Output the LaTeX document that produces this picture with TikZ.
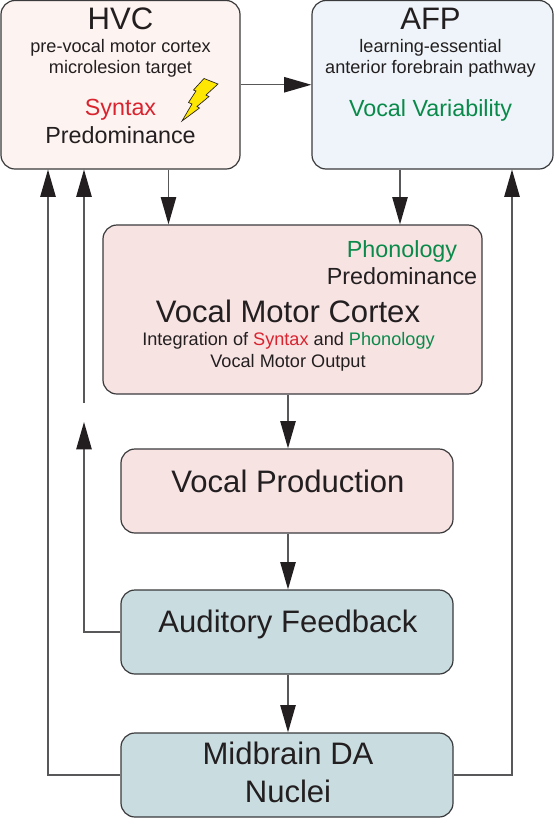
\documentclass[tikz,border=0pt]{standalone}
\usepackage{fontspec}
\setmainfont{Liberation Sans}
\usetikzlibrary{arrows.meta,calc}
\definecolor{hvcfill}{HTML}{FDF3F0}
\definecolor{afpfill}{HTML}{EEF4F9}
\definecolor{pinkfill}{HTML}{F8E3E3}
\definecolor{tealfill}{HTML}{C9DDE1}
\definecolor{redtxt}{HTML}{D9232E}
\definecolor{greentxt}{HTML}{0A8A4A}
\definecolor{edgeg}{HTML}{3A3A3C}
\definecolor{lineg}{HTML}{58585A}
\definecolor{tipk}{HTML}{231F20}
\definecolor{txtk}{HTML}{231F20}
\newcommand{\fs}[1]{\fontsize{#1}{#1}\selectfont}
\tikzset{
  x=0.75pt,y=-0.75pt,
  boxn/.style={draw=edgeg,line width=0.9pt,rounded corners=10.5pt,inner sep=0pt,minimum width=#1*0.75pt},
  tx/.style={inner sep=0pt,anchor=base,text=txtk},
  conn/.style={draw=lineg,line width=1.1pt,-{Triangle[length=20.5pt,width=11.5pt,color=tipk]}},
}
\begin{document}
\begin{tikzpicture}
\useasboundingbox (0,0) rectangle (554,818);
% boxes
\node[boxn=239,fill=hvcfill,minimum height=168.5*0.75pt] (hvc) at (120.5,84.75) {};
\node[boxn=241,fill=afpfill,minimum height=168.5*0.75pt] (afp) at (432.5,84.75) {};
\node[boxn=379,fill=pinkfill,minimum height=169*0.75pt] (vmc) at (292.5,309.5) {};
\node[boxn=332,fill=pinkfill,minimum height=84*0.75pt] (vp) at (287,491) {};
\node[boxn=332,fill=tealfill,minimum height=84*0.75pt] (af) at (287,632) {};
\node[boxn=332,fill=tealfill,minimum height=84*0.75pt] (md) at (287,775) {};
% texts
\node[tx] (t1) at (120.5,29) {\fs{23.3}HVC};
\node[tx] (t2) at (120.5,52) {\fs{13.6}pre-vocal motor cortex};
\node[tx] (t3) at (120.5,73) {\fs{13.6}microlesion target};
\node[tx,text=redtxt] (t4) at (120.5,115) {\fs{17.5}Syntax};
\node[tx] (t5) at (120.5,143) {\fs{17.5}Predominance};
\node[tx] (t6) at (430.5,29) {\fs{23.3}AFP};
\node[tx] (t7) at (430.5,52) {\fs{13.6}learning-essential};
\node[tx] (t8) at (430.5,73) {\fs{13.6}anterior forebrain pathway};
\node[tx,text=greentxt] (t9) at (430.5,116) {\fs{17.5}Vocal Variability};
\node[tx,text=greentxt] (t10) at (402,257) {\fs{17.5}Phonology};
\node[tx] (t11) at (402,284) {\fs{17.5}Predominance};
\node[tx] (t12) at (288,322.5) {\fs{23.3}Vocal Motor Cortex};
\node[tx] (t13) at (288.5,345) {\fs{13.6}Integration of \textcolor{redtxt}{Syntax} and \textcolor{greentxt}{Phonology}};
\node[tx] (t14) at (288,367) {\fs{13.6}Vocal Motor Output};
\node[tx] (t15) at (288,492) {\fs{23.3}Vocal Production};
\node[tx] (t16) at (288,632) {\fs{23.3}Auditory Feedback};
\node[tx] (t17) at (288,764) {\fs{23.3}Midbrain DA};
\node[tx] (t18) at (288,802) {\fs{23.3}Nuclei};
% bolt
\draw[fill=yellow!90!orange,draw=tipk,line width=0.5pt] (204,78.5) -- (218,84) -- (206,95) -- (209,96.5) -- (197,106.5) -- (199.5,108) -- (182,121) -- (192,104) -- (188.5,102.5) -- (196,91) -- (193.5,90) -- cycle;
% coordinates
\coordinate (lA) at (48,169.5);
\coordinate (lB) at (84,169.5);
\coordinate (lBtop) at (84,403);
\coordinate (lBtip) at (84,422);
\coordinate (rA) at (512,169.5);
\coordinate (hx) at (168.5,0);
\coordinate (ax) at (400,0);
\coordinate (cx) at (288,0);
% connectors
\draw[conn] (hvc.east) -- (afp.west);
\draw[conn] (hvc.south -| hx) -- (vmc.north -| hx);
\draw[conn] (afp.south -| ax) -- (vmc.north -| ax);
\draw[conn] (vmc.south -| cx) -- (vp.north -| cx);
\draw[conn] (vp.south -| cx) -- (af.north -| cx);
\draw[conn] (af.south -| cx) -- (md.north -| cx);
\draw[conn] (md.west) -- (md.west -| lA) -- (lA);
\draw[conn] (af.west) -- (af.west -| lBtip) -- (lBtip);
\draw[conn] (lBtop) -- (lB);
\draw[conn] (md.east) -- (md.east -| rA) -- (rA);
\end{tikzpicture}
\end{document}
